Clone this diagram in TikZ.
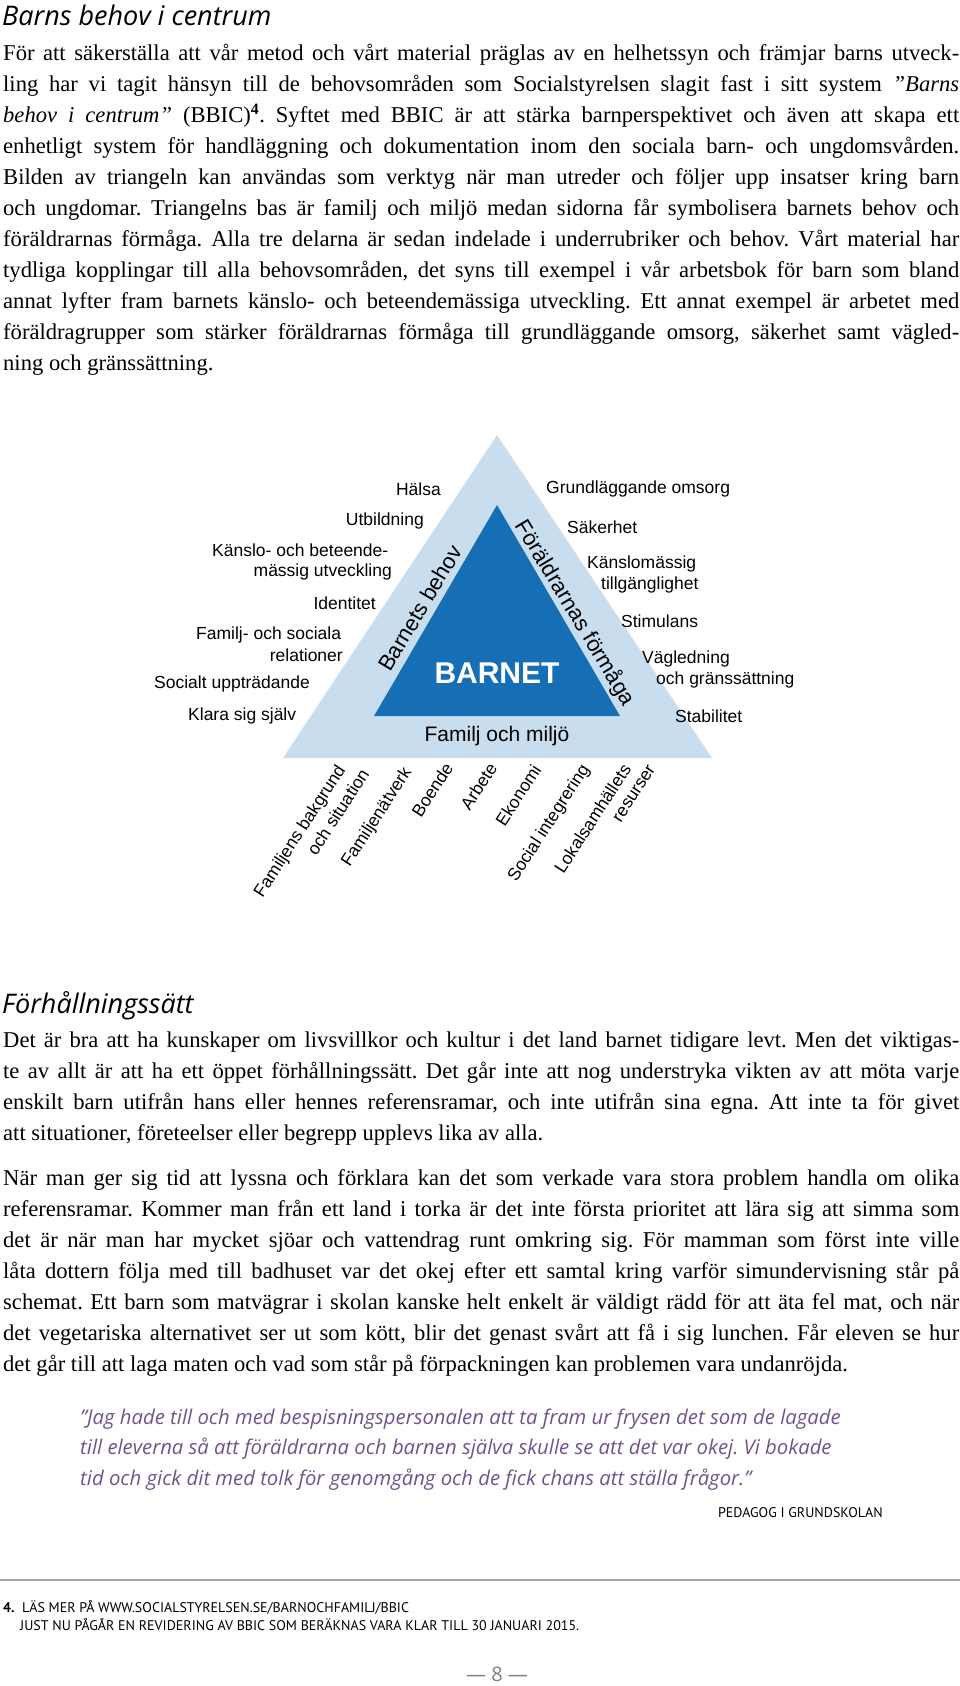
\documentclass[tikz,border=0pt]{standalone}
\usepackage{fontspec}
\setmainfont{Liberation Serif}
\newfontfamily\arialf{Liberation Sans}
\newfontfamily\headf{Open Sans}
\newfontfamily\capf{PT Sans}
\definecolor{lightb}{RGB}{200,222,238}
\definecolor{darkb}{RGB}{22,110,180}
\definecolor{quotec}{RGB}{112,82,140}
\newcommand\J[1]{\hbox to 956pt{#1}}
\frenchspacing
\begin{document}
\begin{tikzpicture}[x=1pt,y=-1pt,
  body/.style={anchor=base west,inner sep=0pt,font=\fontsize{22.6}{25}\selectfont},
  head/.style={anchor=base west,inner sep=0pt,font=\headf\itshape\fontsize{27}{30}\selectfont},
  lab/.style={inner sep=0pt,font=\arialf\fontsize{17.5}{20}\selectfont},
  rlab/.style={inner sep=0pt,font=\arialf\fontsize{17.5}{20}\selectfont,rotate=57,anchor=base east},
  quo/.style={anchor=base west,inner sep=0pt,text=quotec,font=\headf\itshape\fontsize{20.3}{22}\selectfont},
  foot/.style={anchor=base west,inner sep=0pt,font=\capf\fontsize{14}{16}\selectfont}]
\useasboundingbox (0,0) rectangle (960,1686);
\node[head] (h1) at (2,26) {Barns behov i centrum};
\node[body] (p1) at (3,60) {\J{För att säkerställa att vår metod och vårt material präglas av en helhetssyn och främjar barns utveck-}};
\node[body] (p2) at (3,91) {\J{ling har vi tagit hänsyn till de behovsområden som Socialstyrelsen slagit fast i sitt system \textit{”Barns}}};
\node[body] (p3) at (3,122) {\J{\textit{behov i centrum”} (BBIC)\textsuperscript{\textbf{4}}. Syftet med BBIC är att stärka barnperspektivet och även att skapa ett}};
\node[body] (p4) at (3,153) {\J{enhetligt system för handläggning och dokumentation inom den sociala barn- och ungdomsvården.}};
\node[body] (p5) at (3,184) {\J{Bilden av triangeln kan användas som verktyg när man utreder och följer upp insatser kring barn}};
\node[body] (p6) at (3,215) {\J{och ungdomar. Triangelns bas är familj och miljö medan sidorna får symbolisera barnets behov och}};
\node[body] (p7) at (3,246) {\J{föräldrarnas förmåga. Alla tre delarna är sedan indelade i underrubriker och behov. Vårt material har}};
\node[body] (p8) at (3,277) {\J{tydliga kopplingar till alla behovsområden, det syns till exempel i vår arbetsbok för barn som bland}};
\node[body] (p9) at (3,308) {\J{annat lyfter fram barnets känslo- och beteendemässiga utveckling. Ett annat exempel är arbetet med}};
\node[body] (p10) at (3,339) {\J{föräldragrupper som stärker föräldrarnas förmåga till grundläggande omsorg, säkerhet samt vägled-}};
\node[body] (p11) at (3,370) {ning och gränssättning.};
% triangle
\path[fill=lightb] (497,435) -- (712,758) -- (283,758) -- cycle;
\path[fill=darkb] (497,505) -- (620,716) -- (374,716) -- cycle;
\node[inner sep=0pt,text=white,font=\arialf\bfseries\fontsize{30}{32}\selectfont] (bn) at (497,673) {BARNET};
\node[inner sep=0pt,font=\arialf\fontsize{21}{24}\selectfont] (fm) at (497,736) {Familj och miljö};
\node[inner sep=0pt,font=\arialf\fontsize{22}{24}\selectfont,rotate=59] (bb) at (420,608) {Barnets behov};
\node[inner sep=0pt,font=\arialf\fontsize{22}{24}\selectfont,rotate=-59] (ff) at (575,613) {Föräldrarnas förmåga};
% left labels
\node[lab,anchor=east] (l1) at (441,489) {Hälsa};
\node[lab,anchor=east] (l2) at (424,521) {Utbildning};
\node[lab,anchor=west] (l3) at (212,550) {Känslo- och beteende-};
\node[lab,anchor=east] (l3b) at (392,572) {mässig utveckling};
\node[lab,anchor=east] (l4) at (376,603) {Identitet};
\node[lab,anchor=west] (l5) at (196,635) {Familj- och sociala};
\node[lab,anchor=east] (l5b) at (343,655) {relationer};
\node[lab,anchor=west] (l6) at (154,684) {Socialt uppträdande};
\node[lab,anchor=west] (l7) at (188,716) {Klara sig själv};
% right labels
\node[lab,anchor=west] (r1) at (546,489) {Grundläggande omsorg};
\node[lab,anchor=west] (r2) at (567,527) {Säkerhet};
\node[lab,anchor=west] (r3) at (587,564) {Känslomässig};
\node[lab,anchor=west] (r3b) at (601,585) {tillgänglighet};
\node[lab,anchor=west] (r4) at (621,621) {Stimulans};
\node[lab,anchor=west] (r5) at (642,659) {Vägledning};
\node[lab,anchor=west] (r5b) at (656,680) {och gränssättning};
\node[lab,anchor=west] (r6) at (675,716) {Stabilitet};
% bottom rotated labels
\node[rlab] (b1) at (346,770) {Familjens bakgrund};
\node[rlab] (b1b) at (370,774) {och situation};
\node[rlab] (b2) at (412,772) {Familjenätverk};
\node[rlab] (b3) at (454,768) {Boende};
\node[rlab] (b4) at (498,768) {Arbete};
\node[rlab] (b5) at (542,770) {Ekonomi};
\node[rlab] (b6) at (590,769) {Social integrering};
\node[rlab] (b7) at (632,769) {Lokalsamhällets};
\node[rlab] (b7b) at (656,769) {resurser};
% second section
\node[head] (h2) at (2,1013) {Förhållningssätt};
\node[body] (q1) at (3,1047) {\J{Det är bra att ha kunskaper om livsvillkor och kultur i det land barnet tidigare levt. Men det viktigas-}};
\node[body] (q2) at (3,1078) {\J{te av allt är att ha ett öppet förhållningssätt. Det går inte att nog understryka vikten av att möta varje}};
\node[body] (q3) at (3,1109) {\J{enskilt barn utifrån hans eller hennes referensramar, och inte utifrån sina egna. Att inte ta för givet}};
\node[body] (q4) at (3,1140) {att situationer, företeelser eller begrepp upplevs lika av alla.};
\node[body] (s1) at (3,1185) {\J{När man ger sig tid att lyssna och förklara kan det som verkade vara stora problem handla om olika}};
\node[body] (s2) at (3,1216) {\J{referensramar. Kommer man från ett land i torka är det inte första prioritet att lära sig att simma som}};
\node[body] (s3) at (3,1247) {\J{det är när man har mycket sjöar och vattendrag runt omkring sig. För mamman som först inte ville}};
\node[body] (s4) at (3,1278) {\J{låta dottern följa med till badhuset var det okej efter ett samtal kring varför simundervisning står på}};
\node[body] (s5) at (3,1309) {\J{schemat. Ett barn som matvägrar i skolan kanske helt enkelt är väldigt rädd för att äta fel mat, och när}};
\node[body] (s6) at (3,1340) {\J{det vegetariska alternativet ser ut som kött, blir det genast svårt att få i sig lunchen. Får eleven se hur}};
\node[body] (s7) at (3,1371) {det går till att laga maten och vad som står på förpackningen kan problemen vara undanröjda.};
\node[quo] (c1) at (80,1424) {”Jag hade till och med bespisningspersonalen att ta fram ur frysen det som de lagade};
\node[quo] (c2) at (80,1454) {till eleverna så att föräldrarna och barnen själva skulle se att det var okej. Vi bokade};
\node[quo] (c3) at (80,1485) {tid och gick dit med tolk för genomgång och de fick chans att ställa frågor.”};
\node[foot,anchor=base east] (ped) at (883,1517) {PEDAGOG I GRUNDSKOLAN};
\draw[gray!70,line width=1.2pt] (0,1580) -- (960,1580);
\node[foot] (f1) at (3,1612) {\textbf{4.}\ \ LÄS MER PÅ WWW.SOCIALSTYRELSEN.SE/BARNOCHFAMILJ/BBIC};
\node[foot] (f2) at (20,1630) {JUST NU PÅGÅR EN REVIDERING AV BBIC SOM BERÄKNAS VARA KLAR TILL 30 JANUARI 2015.};
\node[inner sep=0pt,text=gray,font=\headf\fontsize{20}{22}\selectfont] (pn) at (497,1674) {— 8 —};
\end{tikzpicture}
\end{document}
